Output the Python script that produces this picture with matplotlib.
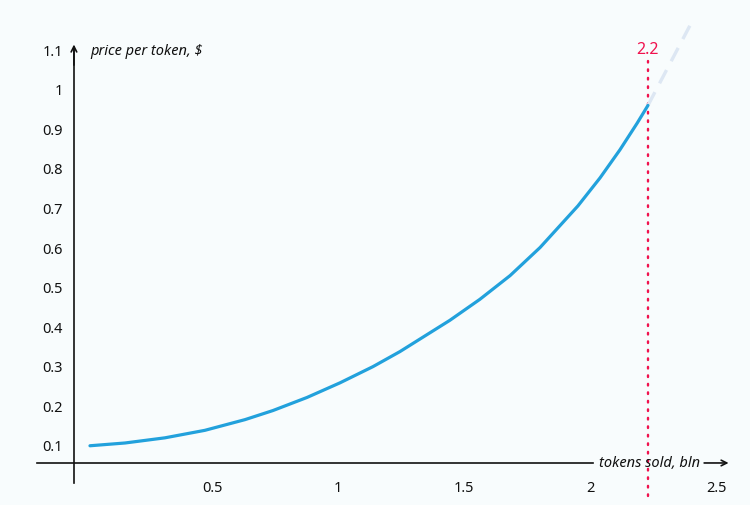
import matplotlib
matplotlib.use("Agg")
import matplotlib.pyplot as plt

# curve (tokens sold, bln -> price per token, $)
tokens = [0.016, 0.155, 0.313, 0.472, 0.631, 0.742, 0.877, 1.008, 1.139, 1.246,
          1.444, 1.563, 1.683, 1.802, 1.952, 2.040, 2.119, 2.187, 2.230]
price = [0.098, 0.105, 0.118, 0.137, 0.164, 0.187, 0.220, 0.257, 0.298, 0.336,
         0.415, 0.468, 0.528, 0.599, 0.704, 0.775, 0.846, 0.913, 0.958]

# faded continuation past the cap
ext_tokens = [2.230, 2.405]
ext_price = [0.958, 1.17]

cap_x = 2.23
cap_label = "2.2"

xticks = [0.5, 1, 1.5, 2, 2.5]
xtick_labels = ["0.5", "1", "1.5", "2", "2.5"]
yticks = [0.1, 0.2, 0.3, 0.4, 0.5, 0.6, 0.7, 0.8, 0.9, 1.0, 1.1]
ytick_labels = ["0.1", "0.2", "0.3", "0.4", "0.5", "0.6", "0.7", "0.8", "0.9", "1", "1.1"]

bg = "#f8fcfd"
blue = "#22a1dc"
red = "#f0124e"
ink = "#111111"

plt.rcParams["font.family"] = ["Noto Sans", "DejaVu Sans"]

fig = plt.figure(figsize=(7.5, 5.06), dpi=100, facecolor=bg)
ax = fig.add_axes([0, 0, 1, 1], facecolor=bg)

ax.set_xlim(-0.341, 2.635)
ax.set_ylim(-0.0517, 1.227)

x_axis_y = 0.0545
y_axis_x = -0.0476

# spines act as the chart's axes
for s in ["top", "right"]:
    ax.spines[s].set_visible(False)
ax.spines["left"].set_position(("data", y_axis_x))
ax.spines["bottom"].set_position(("data", x_axis_y))
ax.spines["left"].set_bounds(0.004, 1.10)
ax.spines["bottom"].set_bounds(-0.194, 2.012)
for s in ["left", "bottom"]:
    ax.spines[s].set_color(ink)
    ax.spines[s].set_linewidth(1.2)

ax.set_xticks(xticks)
ax.set_xticklabels(xtick_labels)
ax.set_yticks(yticks)
ax.set_yticklabels(ytick_labels)
ax.tick_params(axis="both", length=0, labelsize=10.5, colors=ink)
ax.tick_params(axis="x", pad=12)
ax.tick_params(axis="y", pad=8)
for lab in ax.get_xticklabels() + ax.get_yticklabels():
    lab.set_fontweight("medium")

# arrow heads
ax.annotate("", xy=(y_axis_x, 1.112), xytext=(y_axis_x, 1.06),
            arrowprops=dict(arrowstyle="->", color=ink, lw=1.2,
                            mutation_scale=10, shrinkA=0, shrinkB=0))
ax.annotate("", xy=(2.55, x_axis_y), xytext=(2.453, x_axis_y),
            arrowprops=dict(arrowstyle="->", color=ink, lw=1.2,
                            mutation_scale=10, shrinkA=0, shrinkB=0))

ax.text(0.016, 1.098, "price per token, $", style="italic", fontsize=10.5,
        color=ink, ha="left", va="center")
ax.text(2.035, x_axis_y, "tokens sold, bln", style="italic", fontsize=10.5,
        color=ink, ha="left", va="center")

# cap line
ax.plot([cap_x, cap_x], [-0.029, 1.07], color=red, lw=1.7,
        linestyle=(0, (0.7, 2.9)), dash_capstyle="round")
ax.text(cap_x, 1.1, cap_label, color=red, fontsize=11.5, ha="center", va="center")

ax.plot(ext_tokens, ext_price, color="#dde7f3", lw=2.4, linestyle=(0, (4.5, 3)))
ax.plot(tokens, price, color=blue, lw=2.3, solid_capstyle="round",
        solid_joinstyle="round")

fig.savefig("out.png", dpi=100, facecolor=bg)
